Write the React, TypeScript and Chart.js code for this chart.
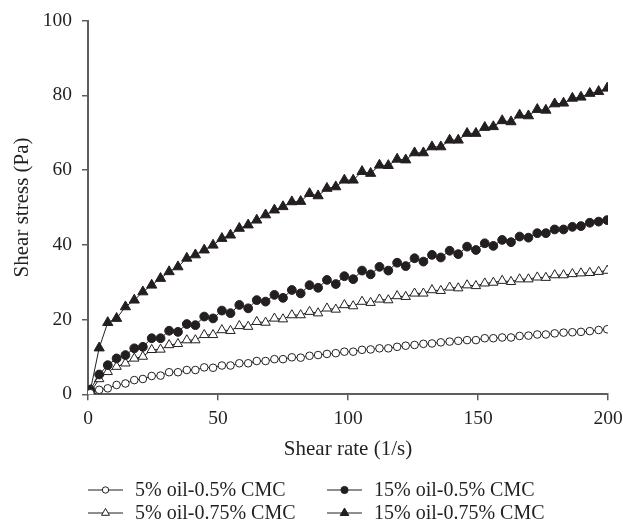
import React, { useEffect, useRef } from "react";
import { Chart, registerables } from "chart.js";

Chart.register(...registerables);

// Shear rate (1/s)
const shearRate = [
  0.9, 4.3, 7.6, 11.0, 14.4, 17.8, 21.1, 24.5, 27.9, 31.2,
  34.6, 38.0, 41.3, 44.7, 48.1, 51.5, 54.8, 58.2, 61.6, 64.9,
  68.3, 71.7, 75.0, 78.4, 81.8, 85.2, 88.5, 91.9, 95.3, 98.6,
  102.0, 105.4, 108.7, 112.1, 115.5, 118.9, 122.2, 125.6, 129.0, 132.3,
  135.7, 139.1, 142.4, 145.8, 149.2, 152.6, 155.9, 159.3, 162.7, 166.0,
  169.4, 172.8, 176.1, 179.5, 182.9, 186.3, 189.6, 193.0, 196.4, 199.7,
];

// Shear stress (Pa)
const oil5Cmc05 = [
  0.3, 1.2, 1.6, 2.5, 2.9, 3.8, 4.1, 4.9, 5.0, 5.9,
  5.9, 6.5, 6.5, 7.2, 7.1, 7.7, 7.7, 8.3, 8.3, 8.9,
  8.9, 9.4, 9.4, 9.9, 9.8, 10.3, 10.5, 10.8, 11.0, 11.4,
  11.4, 11.9, 12.0, 12.3, 12.3, 12.7, 13.0, 13.2, 13.5, 13.6,
  13.9, 14.1, 14.3, 14.5, 14.5, 15.0, 15.0, 15.2, 15.2, 15.6,
  15.7, 16.0, 16.0, 16.3, 16.5, 16.6, 16.7, 16.9, 17.2, 17.4,
];

const oil15Cmc05 = [
  1.2, 5.3, 7.8, 9.6, 10.5, 12.3, 12.7, 15.0, 15.0, 17.0,
  16.7, 18.8, 18.5, 20.8, 20.3, 22.4, 21.7, 23.9, 23.0, 25.2,
  24.8, 26.6, 25.8, 27.9, 27.0, 29.2, 28.5, 30.6, 29.5, 31.6,
  30.8, 33.1, 32.1, 34.1, 33.1, 35.2, 34.3, 36.4, 35.5, 37.3,
  36.6, 38.4, 37.5, 39.5, 38.6, 40.4, 39.7, 41.3, 40.7, 42.2,
  41.9, 43.1, 43.1, 44.1, 44.1, 44.8, 45.0, 45.9, 46.2, 46.6,
];

const oil5Cmc075 = [
  0.5, 4.1, 6.0, 7.4, 8.3, 9.6, 10.1, 11.9, 12.0, 13.2,
  13.5, 14.5, 14.5, 15.9, 15.9, 17.2, 17.0, 18.3, 18.1, 19.4,
  19.2, 20.3, 20.1, 21.2, 21.2, 22.1, 21.7, 23.0, 22.7, 23.9,
  23.6, 24.8, 24.5, 25.4, 25.2, 26.3, 26.1, 27.0, 27.0, 27.9,
  27.7, 28.6, 28.4, 29.2, 29.0, 29.7, 29.9, 30.4, 30.1, 30.8,
  30.8, 31.3, 31.2, 31.9, 31.9, 32.2, 32.4, 32.5, 32.8, 33.1,
];

const oil15Cmc075 = [
  1.0, 12.4, 19.2, 20.3, 23.4, 25.2, 27.4, 29.2, 31.0, 32.8,
  34.1, 36.4, 37.3, 38.6, 39.9, 41.7, 42.6, 44.4, 45.3, 46.6,
  48.0, 49.3, 50.2, 51.5, 51.6, 53.7, 53.1, 55.1, 55.5, 57.3,
  57.3, 59.6, 59.1, 61.3, 61.2, 62.9, 62.7, 64.6, 64.6, 66.2,
  66.2, 68.0, 68.0, 69.8, 69.8, 71.4, 71.6, 73.2, 72.9, 74.7,
  74.5, 76.2, 76.0, 77.7, 77.9, 79.2, 79.5, 80.5, 81.0, 81.9,
];

const seriesLabels = [
  "5% oil-0.5% CMC",
  "15% oil-0.5% CMC",
  "5% oil-0.75% CMC",
  "15% oil-0.75% CMC",
];

const xTickValues = [0, 50, 100, 150, 200];
const yTickValues = [0, 20, 40, 60, 80, 100];

const INK = "#231f20";
const AXIS = "#5e5e5e";
const FONT = "'Liberation Serif', 'Times New Roman', serif";

const toPoints = (ys: number[]) => ys.map((y, i) => ({ x: shearRate[i], y }));

const markerStyles = [
  { pointStyle: "circle", radius: 3.8, fill: "#ffffff", legendRadius: 3.2 },
  { pointStyle: "circle", radius: 4.4, fill: INK, legendRadius: 3.6 },
  { pointStyle: "triangle", radius: 5.4, fill: "#ffffff", legendRadius: 4.6 },
  { pointStyle: "triangle", radius: 5.9, fill: INK, legendRadius: 5.0 },
];

function drawMarker(ctx: CanvasRenderingContext2D, style: string, x: number, y: number, r: number, fill: string) {
  ctx.beginPath();
  if (style === "circle") {
    ctx.arc(x, y, r, 0, Math.PI * 2);
  } else {
    const a = (Math.PI * 2) / 3;
    ctx.moveTo(x, y - r);
    ctx.lineTo(x + Math.sin(a) * r, y - Math.cos(a) * r);
    ctx.lineTo(x + Math.sin(2 * a) * r, y - Math.cos(2 * a) * r);
    ctx.closePath();
  }
  ctx.fillStyle = fill;
  ctx.fill();
  ctx.lineWidth = 1;
  ctx.strokeStyle = INK;
  ctx.stroke();
}

const legendPlugin = {
  id: "gridLegend",
  afterDraw(chart: any) {
    const ctx: CanvasRenderingContext2D = chart.ctx;
    const colX = [88, 327];
    const rowY = [490, 513];
    ctx.save();
    chart.data.datasets.forEach((ds: any, i: number) => {
      const x0 = colX[i % 2];
      const y = rowY[Math.floor(i / 2)];
      const m = markerStyles[i];
      ctx.beginPath();
      ctx.moveTo(x0, y);
      ctx.lineTo(x0 + 35, y);
      ctx.lineWidth = 1.2;
      ctx.strokeStyle = INK;
      ctx.stroke();
      drawMarker(ctx, m.pointStyle, x0 + 17.5, y, m.legendRadius, m.fill);
      ctx.fillStyle = INK;
      ctx.font = `20px ${FONT}`;
      ctx.textBaseline = "middle";
      ctx.textAlign = "left";
      ctx.fillText(ds.label, x0 + 47, y + 1);
    });
    ctx.restore();
  },
};

export default function App() {
  const canvasRef = useRef<HTMLCanvasElement | null>(null);

  useEffect(() => {
    if (!canvasRef.current) return;
    const seriesData = [oil5Cmc05, oil15Cmc05, oil5Cmc075, oil15Cmc075];
    const chart = new Chart(canvasRef.current, {
      type: "line",
      data: {
        datasets: seriesData.map((ys, i) => ({
          label: seriesLabels[i],
          data: toPoints(ys),
          borderColor: INK,
          borderWidth: 1,
          backgroundColor: markerStyles[i].fill,
          pointStyle: markerStyles[i].pointStyle as any,
          pointRadius: markerStyles[i].radius,
          pointBackgroundColor: markerStyles[i].fill,
          pointBorderColor: INK,
          pointBorderWidth: 1,
          tension: 0,
          fill: false,
        })),
      },
      options: {
        responsive: false,
        animation: false,
        events: [],
        layout: { padding: { left: 0, right: 15, top: 20.5, bottom: 62.7 } },
        plugins: {
          legend: { display: false },
          title: { display: false },
          tooltip: { enabled: false },
        },
        scales: {
          x: {
            type: "linear",
            min: 0,
            max: 200,
            afterBuildTicks: (scale: any) => {
              scale.ticks = xTickValues.map((v) => ({ value: v }));
            },
            ticks: {
              color: INK,
              font: { family: FONT, size: 19.5 },
              padding: 7,
              maxRotation: 0,
            },
            grid: {
              drawOnChartArea: false,
              drawTicks: true,
              tickLength: 6,
              color: AXIS,
              lineWidth: 1.5,
            },
            border: { display: true, color: AXIS, width: 2 },
            title: {
              display: true,
              text: "Shear rate (1/s)",
              color: INK,
              font: { family: FONT, size: 21 },
              padding: 0,
            },
            afterFit: (scale: any) => {
              scale.height = 68;
              scale.paddingLeft = 0;
              scale.paddingRight = 0;
            },
          },
          y: {
            type: "linear",
            min: 0,
            max: 100,
            afterBuildTicks: (scale: any) => {
              scale.ticks = yTickValues.map((v) => ({ value: v }));
            },
            ticks: {
              color: INK,
              font: { family: FONT, size: 19.5 },
              padding: 10,
            },
            grid: {
              drawOnChartArea: false,
              drawTicks: true,
              tickLength: 6,
              color: AXIS,
              lineWidth: 1.5,
            },
            border: { display: true, color: AXIS, width: 2 },
            title: {
              display: true,
              text: "Shear stress (Pa)",
              color: INK,
              font: { family: FONT, size: 21 },
              padding: { top: 10, bottom: 0 },
            },
            afterFit: (scale: any) => {
              scale.width = 88;
              scale.paddingTop = 0;
              scale.paddingBottom = 0;
            },
          },
        },
      },
      plugins: [legendPlugin],
    });
    return () => chart.destroy();
  }, []);

  return (
    <div style={{ position: "absolute", left: 0, top: 0, width: 623, height: 525, background: "#ffffff" }}>
      <canvas ref={canvasRef} width={623} height={525} style={{ display: "block" }} />
    </div>
  );
}
